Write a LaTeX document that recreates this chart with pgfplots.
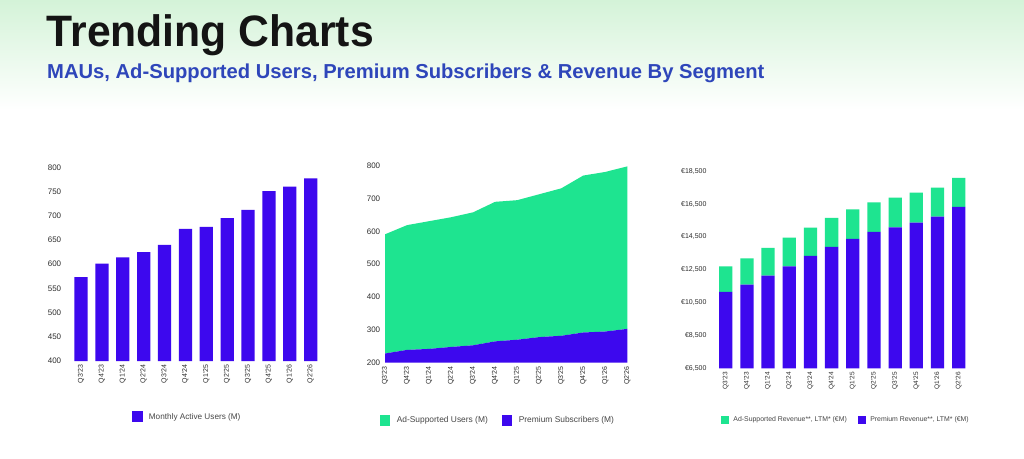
\documentclass[border=0pt]{standalone}
\usepackage{pgfplots}
\pgfplotsset{compat=1.18}
\usepackage{fontspec}
\setmainfont{Liberation Sans}
\newfontfamily\titlefont[FakeStretch=0.97]{Liberation Sans}
\definecolor{spurple}{RGB}{61,8,238}
\definecolor{sgreen}{RGB}{30,228,144}
\definecolor{subblue}{RGB}{46,70,186}
\definecolor{bggreen}{RGB}{212,243,216}
\definecolor{tickgray}{RGB}{45,45,45}
\definecolor{leggray}{RGB}{70,70,70}

\pgfplotsset{
  trend/.style={
    scale only axis, anchor=south west,
    axis line style={draw=none}, major tick length=0pt, tick style={draw=none},
    enlargelimits=false,
    xtick={0,...,11},
    xticklabels={Q3'23,Q4'23,Q1'24,Q2'24,Q3'24,Q4'24,Q1'25,Q2'25,Q3'25,Q4'25,Q1'26,Q2'26},
    xticklabel style={rotate=90, anchor=east, text=tickgray},
    yticklabel style={text=tickgray},
    scaled y ticks=false,
    /pgf/number format/assume math mode=true,
    legend columns=2,
    legend cell align=left,
    legend style={draw=none, fill=none, text=leggray},
  }
}

\begin{document}
\begin{tikzpicture}
\useasboundingbox (0pt,0pt) rectangle (1024pt,458pt);
\fill[white] (0pt,0pt) rectangle (1024pt,458pt);
\shade[top color=bggreen, bottom color=white] (0pt,348pt) rectangle (1024pt,458pt);

\node[anchor=base west, inner sep=0pt, font=\titlefont\fontsize{44}{50}\selectfont\bfseries, text=black!92] at (46.5pt,411.5pt) {Trending Charts};
\node[anchor=base west, inner sep=0pt, font=\fontsize{20.2}{24}\selectfont\bfseries, text=subblue] at (47pt,379.7pt) {MAUs, Ad-Supported Users, Premium Subscribers \& Revenue By Segment};

% ---------- Left: MAU ----------
\begin{axis}[trend, at={(68.5pt,97pt)}, width=254.7pt, height=193.7pt,
  xmin=-0.6, xmax=11.6, ymin=400, ymax=800, ytick={400,450,...,800},
  ybar, bar width=13.3pt,
  xticklabel style={font=\fontsize{7}{8}\selectfont},
  yticklabel style={font=\fontsize{8}{9}\selectfont, xshift=-3.8pt},
  legend style={at={(0.466,-0.289)}, anchor=center, font=\fontsize{8.2}{9}\selectfont,
    /tikz/every odd column/.append style={column sep=4pt}},
  legend image code/.code={\fill[#1] (0pt,-5.5pt) rectangle (11pt,5.5pt);},
]
\addplot[fill=spurple, draw=none] coordinates {
(0,573)(1,601)(2,614)(3,625)(4,640)(5,673)(6,677)(7,695)(8,712)(9,751)(10,760)(11,777)};
\addlegendentry{Monthly Active Users (M)}
\end{axis}

% ---------- Middle: stacked area ----------
\begin{axis}[trend, at={(385pt,95.3pt)}, width=242.3pt, height=197pt,
  xmin=0, xmax=11, ymin=200, ymax=800, ytick={200,300,...,800},
  stack plots=y,
  xticklabel style={font=\fontsize{7}{8}\selectfont},
  yticklabel style={font=\fontsize{8}{9}\selectfont, xshift=-1.3pt},
  legend style={at={(0.466,-0.291)}, anchor=center, font=\fontsize{8.4}{9}\selectfont,
    /tikz/every odd column/.append style={column sep=4.5pt},
    /tikz/every even column/.append style={column sep=12pt}},
  legend image code/.code={\fill[#1] (0pt,-5.5pt) rectangle (10.5pt,5.5pt);},
]
\addlegendimage{fill=sgreen, draw=none}
\addlegendentry{Ad-Supported Users (M)}
\addlegendimage{fill=spurple, draw=none}
\addlegendentry{Premium Subscribers (M)}
\addplot[fill=spurple, draw=none] coordinates {
(0,228)(1,239)(2,242)(3,248)(4,253)(5,265)(6,270)(7,278)(8,282)(9,292)(10,295)(11,303)} \closedcycle;
\addplot[fill=sgreen, draw=none] coordinates {
(0,363)(1,380)(2,389)(3,395)(4,405)(5,425)(6,425)(7,435)(8,449)(9,478)(10,486)(11,495)} \closedcycle;
\end{axis}

% ---------- Right: stacked revenue bars ----------
\begin{axis}[trend, at={(713pt,89.7pt)}, width=258.4pt, height=197pt,
  xmin=-0.6, xmax=11.6, ymin=6500, ymax=18500,
  ytick={6500,8500,10500,12500,14500,16500,18500},
  yticklabels={{€6,500},{€8,500},{€10,500},{€12,500},{€14,500},{€16,500},{€18,500}},
  ybar stacked, bar width=13.3pt,
  xticklabel style={font=\fontsize{6.5}{7}\selectfont},
  yticklabel style={font=\fontsize{7}{8}\selectfont, xshift=-3pt},
  legend style={at={(0.514,-0.262)}, anchor=center, font=\fontsize{6.9}{8}\selectfont,
    /tikz/every odd column/.append style={column sep=2.5pt},
    /tikz/every even column/.append style={column sep=9pt}},
  legend image code/.code={\fill[#1] (0pt,-4pt) rectangle (8pt,4pt);},
]
\addlegendimage{fill=sgreen, draw=none}
\addlegendentry{Ad-Supported Revenue**, LTM* (€M)}
\addlegendimage{fill=spurple, draw=none}
\addlegendentry{Premium Revenue**, LTM* (€M)}
\addplot[fill=spurple, draw=none] coordinates {
(0,11150)(1,11596)(2,12145)(3,12713)(4,13343)(5,13891)(6,14378)(7,14805)(8,15089)(9,15373)(10,15739)(11,16328)};
\addplot[fill=sgreen, draw=none] coordinates {
(0,1563)(1,1605)(2,1685)(3,1746)(4,1725)(5,1766)(6,1807)(7,1807)(8,1807)(9,1828)(10,1766)(11,1766)};
\end{axis}
\end{tikzpicture}
\end{document}
